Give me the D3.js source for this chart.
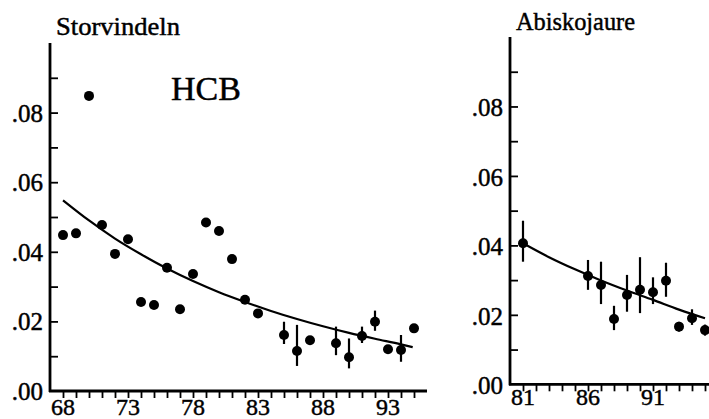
<!DOCTYPE html>
<html>
<head>
<meta charset="utf-8">
<script src="https://cdn.jsdelivr.net/npm/d3@7"></script>
<style>
  body { margin: 0; background: #fff; }
  svg { display: block; }
  text { font-family: "Liberation Serif", "Times New Roman", "DejaVu Serif", serif; fill: #000; stroke: #000; stroke-width: 0.45; }
</style>
</head>
<body>
<div id="chart"></div>
<script>
// Storvindeln (HCB) - yearly values with error bars where drawn
const storYears  = [68, 69, 70, 71, 72, 73, 74, 75, 76, 77, 78, 79, 80, 81, 82, 83, 85, 86, 87, 89, 90, 91, 92, 93, 94, 95];
const storValues = [0.0448, 0.0453, 0.0848, 0.0477, 0.0394, 0.0436, 0.0256, 0.0247, 0.0354, 0.0235, 0.0336, 0.0484, 0.0460, 0.0379, 0.0262, 0.0223, 0.0161, 0.0115, 0.0146, 0.0137, 0.0097, 0.0158, 0.0199, 0.0120, 0.0118, 0.0180];
const storErrLo  = [null, null, null, null, null, null, null, null, null, null, null, null, null, null, null, null, 0.0135, 0.0072, null, 0.0103, 0.0065, 0.0138, 0.0173, 0.0112, 0.0084, null];
const storErrHi  = [null, null, null, null, null, null, null, null, null, null, null, null, null, null, null, null, 0.0199, 0.0190, null, 0.0185, 0.0151, 0.0185, 0.0231, 0.0128, 0.0161, null];
// fitted trend
const storCurveYears  = [68, 70, 72, 74, 76, 78, 80, 82, 84, 86, 88, 90, 92, 94, 94.9];
const storCurveValues = [0.0548, 0.0490, 0.0438, 0.0393, 0.0352, 0.0316, 0.0284, 0.0256, 0.0230, 0.0207, 0.0186, 0.0167, 0.0150, 0.0134, 0.0126];

// Abiskojaure
const abisYears  = [81, 86, 87, 88, 89, 90, 91, 92, 93, 94, 95];
const abisValues = [0.0406, 0.0312, 0.0286, 0.0188, 0.0257, 0.0272, 0.0265, 0.0298, 0.0166, 0.0190, 0.0156];
const abisErrLo  = [0.0353, 0.0272, 0.0231, 0.0156, 0.0209, 0.0205, 0.0231, 0.0252, 0.0152, 0.0171, 0.0140];
const abisErrHi  = [0.0471, 0.0358, 0.0353, 0.0226, 0.0315, 0.0366, 0.0308, 0.0350, 0.0180, 0.0216, 0.0172];
const abisCurveYears  = [81, 83, 85, 87, 89, 91, 93, 95];
const abisCurveValues = [0.0406, 0.0366, 0.0331, 0.0299, 0.0270, 0.0243, 0.0215, 0.0190];

const yTickValues = [0.01, 0.02, 0.03, 0.04, 0.05, 0.06, 0.07, 0.08, 0.09];
const yLabelValues = [0.00, 0.02, 0.04, 0.06, 0.08];

const width = 709, height = 419;

const svg = d3.select('#chart')
    .append('svg')
    .attr('width', width)
    .attr('height', height);

svg.append('rect').attr('width', width).attr('height', height).attr('fill', '#fff');

function drawPanel(cfg) {
    const x = d3.scaleLinear().domain(cfg.xDomain).range(cfg.xRange);
    const y = d3.scaleLinear().domain([0, 0.1]).range(cfg.yRange);
    const g = svg.append('g');
    const x0 = cfg.xRange[0], y0 = cfg.yRange[0];

    // y axis: ticks point inward
    const yAxis = g.append('g')
        .attr('transform', `translate(${x0},0)`)
        .call(d3.axisRight(y).tickValues(yTickValues).tickSize(8).tickFormat(''));
    yAxis.select('.domain').remove();
    yAxis.selectAll('line').attr('stroke', '#000').attr('stroke-width', 1.8);
    g.append('line')
        .attr('x1', x0).attr('x2', x0)
        .attr('y1', y(0.1)).attr('y2', y0 + 1)
        .attr('stroke', '#000').attr('stroke-width', 2.8);

    g.selectAll('.ylab')
        .data(yLabelValues)
        .enter().append('text')
        .attr('x', x0 - 7)
        .attr('y', d => y(d) + cfg.yLabelDy)
        .attr('text-anchor', 'end')
        .attr('font-size', 25)
        .text(d => d3.format('.2f')(d).replace(/^0/, ''));

    // x axis: ticks hang downward
    const xTicks = d3.range(cfg.firstTick, cfg.lastTick + 1);
    const xAxis = g.append('g')
        .attr('transform', `translate(0,${y0})`)
        .call(d3.axisBottom(x).tickValues(xTicks).tickSize(7).tickFormat(''));
    xAxis.select('.domain').remove();
    xAxis.selectAll('line').attr('stroke', '#000').attr('stroke-width', 1.8);
    g.append('line')
        .attr('x1', x0 - 1).attr('x2', cfg.xRange[1])
        .attr('y1', y0).attr('y2', y0)
        .attr('stroke', '#000').attr('stroke-width', 2.8);

    g.selectAll('.xlab')
        .data(xTicks.filter(t => (t - cfg.firstTick) % 5 === 0 && x(t) + 12 < width))
        .enter().append('text')
        .attr('x', d => x(d))
        .attr('y', y0 + cfg.xLabelDy)
        .attr('text-anchor', 'middle')
        .attr('font-size', 24)
        .text(d => d);

    // fitted curve
    const line = d3.line()
        .x(d => x(d[0]))
        .y(d => y(d[1]))
        .curve(d3.curveMonotoneX);
    g.append('path')
        .datum(d3.zip(cfg.curveYears, cfg.curveValues))
        .attr('d', line)
        .attr('fill', 'none')
        .attr('stroke', '#000')
        .attr('stroke-width', 2.2);

    // error bars
    const pts = cfg.years.map((yr, i) => ({ yr, v: cfg.values[i], lo: cfg.errLo[i], hi: cfg.errHi[i] }));
    g.selectAll('.err')
        .data(pts.filter(p => p.lo != null))
        .enter().append('line')
        .attr('x1', d => x(d.yr)).attr('x2', d => x(d.yr))
        .attr('y1', d => y(d.hi)).attr('y2', d => y(d.lo))
        .attr('stroke', '#000')
        .attr('stroke-width', 2.2);

    g.selectAll('.pt')
        .data(pts)
        .enter().append('circle')
        .attr('cx', d => x(d.yr))
        .attr('cy', d => y(d.v))
        .attr('r', 5)
        .attr('fill', '#000');

    g.append('text')
        .attr('x', cfg.titleX)
        .attr('y', cfg.titleY)
        .attr('font-size', 25)
        .attr('textLength', cfg.titleLen)
        .attr('lengthAdjust', 'spacingAndGlyphs')
        .text(cfg.title);
}

drawPanel({
    title: 'Storvindeln', titleX: 56, titleY: 35, titleLen: 124,
    xDomain: [67, 96], xRange: [50, 427],
    yRange: [391, 43],
    firstTick: 68, lastTick: 95,
    xLabelDy: 24, yLabelDy: 9,
    years: storYears, values: storValues, errLo: storErrLo, errHi: storErrHi,
    curveYears: storCurveYears, curveValues: storCurveValues
});

drawPanel({
    title: 'Abiskojaure', titleX: 516, titleY: 30, titleLen: 119,
    xDomain: [80, 109], xRange: [510, 887],
    yRange: [384.3, 37],
    firstTick: 81, lastTick: 108,
    xLabelDy: 21, yLabelDy: 10,
    years: abisYears, values: abisValues, errLo: abisErrLo, errHi: abisErrHi,
    curveYears: abisCurveYears, curveValues: abisCurveValues
});

svg.append('text')
    .attr('x', 171)
    .attr('y', 100)
    .attr('font-size', 34)
    .text('HCB');
</script>
</body>
</html>
